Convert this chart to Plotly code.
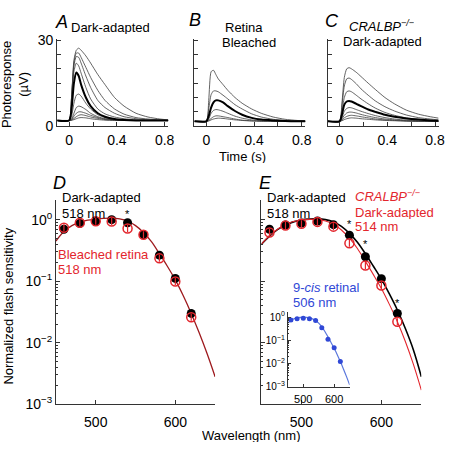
import plotly.graph_objects as go
import math

# ---------------- data ----------------
T = [-0.1, 0.0, 0.02, 0.04, 0.06, 0.08, 0.10, 0.14, 0.18, 0.24, 0.30, 0.38, 0.46, 0.56, 0.66, 0.76, 0.83]

A_traces = [
    [2, 2, 10, 23, 26.5, 27.2, 26.5, 24.5, 22, 18, 14.5, 10, 7, 4.5, 3.2, 2.5, 2.2],
    [2, 2, 10, 22, 25.5, 25.5, 24, 20.5, 17, 12.5, 9, 6, 4.2, 3, 2.5, 2.2, 2],
    [2, 2, 10, 21, 24.3, 24, 22, 17.5, 13.5, 9, 6.5, 4.5, 3.3, 2.6, 2.2, 2.1, 2],
    [2, 2, 9, 19, 22, 21, 18.5, 13.5, 9.5, 6, 4.3, 3.2, 2.6, 2.2, 2, 2, 2],
    [2, 2, 6, 15, 18.7, 17.5, 14.5, 10, 7, 4.5, 3.3, 2.5, 2.2, 2, 2, 2, 2],
    [2, 2, 3.5, 8, 10.8, 11.2, 10.5, 8, 6, 4, 3, 2.4, 2.1, 2, 2, 2, 2],
    [2, 2, 2.5, 4.5, 6.5, 7, 6.8, 5.8, 4.5, 3.3, 2.6, 2.2, 2, 2, 2, 2, 2],
    [2, 2, 2.3, 3.5, 4.5, 5, 5, 4.5, 3.8, 3, 2.5, 2.2, 2, 2, 2, 2, 2],
    [2, 2, 2.1, 2.7, 3.3, 3.8, 4, 3.7, 3.2, 2.7, 2.3, 2.1, 2, 2, 2, 2, 2],
    [2, 2, 2, 2.3, 2.6, 2.9, 3, 2.9, 2.6, 2.3, 2.1, 2, 2, 2, 2, 2, 2],
]
A_bold = 4

B_traces = [
    [1.7, 1.7, 9, 19, 19.5, 18, 16.5, 14.5, 12.5, 10, 8, 6, 4.5, 3.2, 2.4, 2, 1.8],
    [1.7, 1.7, 6, 11, 12.3, 12.3, 12, 10.8, 9.5, 7.5, 6, 4.3, 3.2, 2.4, 2, 1.8, 1.7],
    [1.7, 1.7, 3.5, 6.5, 8.3, 9, 9, 8.3, 7, 5.3, 4, 2.9, 2.3, 2, 1.8, 1.7, 1.7],
    [1.7, 1.7, 2.5, 4.5, 5.5, 5.8, 5.7, 5.2, 4.5, 3.5, 2.8, 2.2, 1.9, 1.8, 1.7, 1.7, 1.7],
    [1.7, 1.7, 2, 2.7, 3.3, 3.6, 3.6, 3.3, 3, 2.5, 2.1, 1.9, 1.8, 1.7, 1.7, 1.7, 1.7],
    [1.7, 1.7, 1.8, 2.2, 2.5, 2.7, 2.8, 2.7, 2.5, 2.2, 2, 1.8, 1.7, 1.7, 1.7, 1.7, 1.7],
]
B_bold = 2

C_traces = [
    [1.7, 1.7, 8, 17, 20, 20.4, 20, 18.8, 17.3, 15, 12.8, 10, 7.8, 5.6, 4.2, 3.3, 2.8],
    [1.7, 1.7, 7, 14, 16.5, 16.8, 16.3, 14.8, 13, 10.8, 8.8, 6.8, 5.3, 3.9, 3, 2.5, 2.2],
    [1.7, 1.7, 5, 10, 12, 12.3, 12, 10.8, 9.5, 7.8, 6.3, 4.8, 3.8, 2.9, 2.4, 2.1, 1.9],
    [1.7, 1.7, 4, 7.5, 8.6, 8.8, 8.6, 7.8, 7, 5.8, 5, 4, 3.3, 2.7, 2.3, 2, 1.9],
    [1.7, 1.7, 3, 5.2, 6.2, 6.5, 6.4, 5.8, 5.2, 4.4, 3.7, 3, 2.5, 2.1, 1.9, 1.8, 1.7],
    [1.7, 1.7, 2.5, 3.8, 4.6, 4.9, 4.9, 4.6, 4.1, 3.5, 3, 2.5, 2.2, 1.9, 1.8, 1.7, 1.7],
    [1.7, 1.7, 2.1, 2.9, 3.4, 3.7, 3.8, 3.6, 3.3, 2.9, 2.5, 2.2, 2, 1.8, 1.7, 1.7, 1.7],
    [1.7, 1.7, 1.9, 2.3, 2.6, 2.8, 2.9, 2.8, 2.6, 2.4, 2.2, 2, 1.9, 1.8, 1.7, 1.7, 1.7],
]
C_bold = 3

WL = [460, 480, 500, 520, 540, 560, 580, 600, 620]
D_dark = [0.70, 0.87, 0.93, 1.00, 0.89, 0.57, 0.265, 0.111, 0.030]
D_bleached = [0.74, 0.89, 0.94, 0.93, 0.72, 0.57, 0.235, 0.099, 0.026]
E_dark = [0.70, 0.82, 0.88, 0.95, 0.83, 0.56, 0.25, 0.11, 0.030]
E_cralbp = [0.62, 0.80, 0.86, 0.92, 0.77, 0.415, 0.18, 0.085, 0.022]
INSET_9cis = [0.75, 0.85, 0.90, 0.85, 0.72, 0.35, 0.11, 0.047, 0.012]

WF = [450, 460, 470, 480, 490, 500, 510, 520, 530, 540, 550, 560, 570, 580, 590, 600, 610, 620, 630, 640, 650]
FIT_518 = [0.45, 0.64, 0.80, 0.91, 0.98, 1.02, 1.05, 1.06, 1.03, 0.95, 0.80, 0.62, 0.44, 0.28, 0.175, 0.105, 0.058, 0.030, 0.0145, 0.0066, 0.0028]
FIT_E518 = [0.40, 0.54, 0.69, 0.82, 0.92, 0.99, 1.02, 1.03, 1.00, 0.92, 0.78, 0.60, 0.43, 0.28, 0.175, 0.108, 0.062, 0.034, 0.017, 0.0077, 0.0028]
FIT_E514 = [0.40, 0.55, 0.70, 0.84, 0.93, 0.99, 1.01, 1.00, 0.95, 0.85, 0.68, 0.50, 0.34, 0.21, 0.128, 0.076, 0.042, 0.022, 0.0105, 0.0045, 0.0017]
FIT_506 = [0.55, 0.72, 0.85, 0.93, 0.98, 1.00, 0.98, 0.93, 0.84, 0.70, 0.55, 0.38, 0.24, 0.14, 0.08, 0.045, 0.024, 0.012, 0.0058, 0.0027, 0.0012]

STAR_D = [(540, 1.35)]
STAR_E = [(560, 0.91), (580, 0.44), (620, 0.048)]

# ---------------- styling ----------------
W, H = 453, 450
FONT = "Arial"
RED = "#e3262d"
BLUE = "#3048d6"
AX = "#333333"

def px(x):
    return x / W

def py(y):
    return 1 - y / H

fig = go.Figure()

def add_traces(traces, bold, ax):
    for i, tr in enumerate(traces):
        if i == bold:
            continue
        fig.add_trace(go.Scatter(x=T, y=tr, mode="lines", line=dict(color="#3c3c3c", width=0.8, shape="spline", smoothing=0.6),
                                 xaxis="x" + ax, yaxis="y" + ax, showlegend=False, hoverinfo="skip"))
    fig.add_trace(go.Scatter(x=T, y=traces[bold], mode="lines", line=dict(color="black", width=2, shape="spline", smoothing=0.6),
                             xaxis="x" + ax, yaxis="y" + ax, showlegend=False, hoverinfo="skip"))

add_traces(A_traces, A_bold, "")
add_traces(B_traces, B_bold, "2")
add_traces(C_traces, C_bold, "3")

fig.add_trace(go.Scatter(x=WF, y=FIT_518, mode="lines", line=dict(color="#9e1a1e", width=1.3, shape="spline"),
                         xaxis="x4", yaxis="y4", showlegend=False))
fig.add_trace(go.Scatter(x=WL, y=D_dark, mode="markers", marker=dict(color="black", size=9),
                         xaxis="x4", yaxis="y4", showlegend=False))
fig.add_trace(go.Scatter(x=WL, y=D_bleached, mode="markers",
                         marker=dict(symbol="circle-open", color=RED, size=9, line=dict(width=1.5, color=RED)),
                         xaxis="x4", yaxis="y4", showlegend=False))
fig.add_trace(go.Scatter(x=WL, y=D_bleached, mode="markers",
                         marker=dict(symbol="line-ns-open", color=RED, size=5, line=dict(width=1.2, color=RED)),
                         xaxis="x4", yaxis="y4", showlegend=False))

fig.add_trace(go.Scatter(x=WF, y=FIT_E518, mode="lines", line=dict(color="black", width=1.6, shape="spline"),
                         xaxis="x5", yaxis="y5", showlegend=False))
fig.add_trace(go.Scatter(x=WF, y=FIT_E514, mode="lines", line=dict(color=RED, width=1.1, shape="spline"),
                         xaxis="x5", yaxis="y5", showlegend=False))
fig.add_trace(go.Scatter(x=WL, y=E_dark, mode="markers", marker=dict(color="black", size=9),
                         xaxis="x5", yaxis="y5", showlegend=False))
fig.add_trace(go.Scatter(x=WL, y=E_cralbp, mode="markers",
                         marker=dict(symbol="circle-open", color=RED, size=9, line=dict(width=1.5, color=RED)),
                         xaxis="x5", yaxis="y5", showlegend=False))
fig.add_trace(go.Scatter(x=WL, y=E_cralbp, mode="markers",
                         marker=dict(symbol="line-ns-open", color=RED, size=5, line=dict(width=1.2, color=RED)),
                         xaxis="x5", yaxis="y5", showlegend=False))

fig.add_trace(go.Scatter(x=WF, y=FIT_506, mode="lines", line=dict(color="#5b78dc", width=1.2, shape="spline"),
                         xaxis="x6", yaxis="y6", showlegend=False))
fig.add_trace(go.Scatter(x=WL, y=INSET_9cis, mode="markers", marker=dict(color=BLUE, size=5),
                         xaxis="x6", yaxis="y6", showlegend=False))

# ---------------- axes ----------------
base = dict(showline=True, linecolor=AX, linewidth=1, ticks="inside", ticklen=4, tickcolor=AX,
            showgrid=False, zeroline=False, mirror=False, tickfont=dict(family=FONT, size=14, color="black"))

top_y = [0.7260, 0.9271]
tx = dict(base, range=[-0.1, 0.83], tickvals=[0, 0.4, 0.8], ticklabelstandoff=1,
          minor=dict(tickvals=[0.2, 0.6], ticks="inside", ticklen=4, tickcolor=AX))
ty = dict(base, range=[0, 30.5], tickvals=[0, 30], domain=top_y,
          minor=dict(tickvals=[5, 10, 15, 20, 25], ticks="inside", ticklen=4, tickcolor=AX))

dec_vals = [1e-3, 1e-2, 1e-1, 1]
dec_text = ["10<sup>−3</sup>", "10<sup>−2</sup>", "10<sup>−1</sup>", "10<sup>0</sup>"]
minor_vals = [m * 10 ** e for e in (-3, -2, -1, 0) for m in range(2, 10) if m * 10 ** e < 2.1]

def logy(domain, rng, labels=True, size=14, tl=4, mtl=2):
    return dict(base, type="log", range=rng, domain=domain, tickvals=dec_vals, ticklen=tl,
                ticktext=dec_text, showticklabels=labels,
                tickfont=dict(family=FONT, size=size, color="black"),
                minor=dict(tickvals=minor_vals, ticks="inside", ticklen=mtl, tickcolor=AX))

wx = dict(base, range=[450, 650], tickvals=[500, 600], ticktext=["500", "600"], ticklabelstandoff=5)

fig.update_layout(
    width=W, height=H, margin=dict(l=0, r=0, t=0, b=0),
    paper_bgcolor="white", plot_bgcolor="rgba(0,0,0,0)",
    font=dict(family=FONT, size=13, color="black"),
    xaxis=dict(tx, domain=[0.1280, 0.3764], anchor="y"),
    yaxis=dict(ty, anchor="x"),
    xaxis2=dict(tx, domain=[0.4349, 0.6832], anchor="y2"),
    yaxis2=dict(ty, anchor="x2", showticklabels=False),
    xaxis3=dict(tx, domain=[0.7329, 0.9812], anchor="y3"),
    yaxis3=dict(ty, anchor="x3", showticklabels=False),
    xaxis4=dict(wx, domain=[0.1252, 0.4812], anchor="y4"),
    yaxis4=dict(logy([0.0867, 0.5556], [-3, 0.3143]), anchor="x4"),
    xaxis5=dict(wx, domain=[0.5850, 0.9426], anchor="y5"),
    yaxis5=dict(logy([0.0867, 0.5556], [-3, 0.3143], labels=False), anchor="x5"),
    xaxis6=dict(wx, domain=[0.6439, 0.7821], anchor="y6", tickfont=dict(family=FONT, size=11, color="black"),
                ticklen=3, ticklabelstandoff=2),
    yaxis6=dict(logy([0.1273, 0.2978], [-3, 0.2], size=10, tl=3, mtl=1.5), anchor="x6"),
)

anns = []

def ann(x, y, text, size=13, color="black", xanchor="left", angle=0, h=None):
    d = dict(x=px(x), y=py(y), xref="paper", yref="paper", text=text, showarrow=False,
             xanchor=xanchor, yanchor="middle", textangle=angle, borderpad=0,
             font=dict(family=FONT, size=size, color=color))
    if h is not None:
        d["height"] = h
    anns.append(d)

ann(55, 16, "<i>A</i>", 18)
ann(191, 13, "<i>B</i>", 18)
ann(328, 14, "<i>C</i>", 18)
ann(53, 182, "<i>D</i>", 18)
ann(261, 182, "<i>E</i>", 18)

ann(71, 21, "Dark-adapted", h=14)
ann(247, 21, "Retina", xanchor="center", h=14)
ann(252.5, 36.5, "Bleached", xanchor="center", h=14)
ann(387, 20, "<i>CRALBP<sup>−/−</sup></i>", xanchor="center", h=14)
ann(387.5, 35, "Dark-adapted", xanchor="center", h=14)

ann(16, 80, "Photoresponse<br>(µV)", angle=-90, xanchor="center")
ann(246, 154, "Time (s)", xanchor="center", h=14)
ann(9, 309, "Normalized flash sensitivity", angle=-90, xanchor="center")
ann(254.5, 443, "Wavelength (nm)", xanchor="center", h=14)

ann(62, 197, "Dark-adapted", h=14)
ann(62, 213, "518 nm", h=14)
ann(58, 256, "Bleached retina", color=RED, h=14)
ann(58, 271, "518 nm", color=RED, h=14)

ann(270, 197, "Dark-adapted", h=14)
ann(270, 213, "518 nm", h=14)
ann(359, 196, "<i>CRALBP<sup>−/−</sup></i>", color=RED, h=14)
ann(359, 212, "Dark-adapted", color=RED, h=14)
ann(359, 227, "514 nm", color=RED, h=14)
ann(296, 290, "9-<i>cis</i> retinal", color=BLUE, h=14)
ann(296, 305, "506 nm", color=BLUE, h=14)

for (xw, yv) in STAR_D:
    anns.append(dict(x=xw, y=math.log10(yv), xref="x4", yref="y4", text="*", showarrow=False,
                     yanchor="middle", yshift=-2, font=dict(family=FONT, size=11, color="black")))
for (xw, yv) in STAR_E:
    anns.append(dict(x=xw, y=math.log10(yv), xref="x5", yref="y5", text="*", showarrow=False,
                     yanchor="middle", yshift=-2, font=dict(family=FONT, size=11, color="black")))

fig.update_layout(annotations=anns)

fig.write_html("out.html", config={"displayModeBar": False},
               post_script="document.body.style.margin='0px';")
